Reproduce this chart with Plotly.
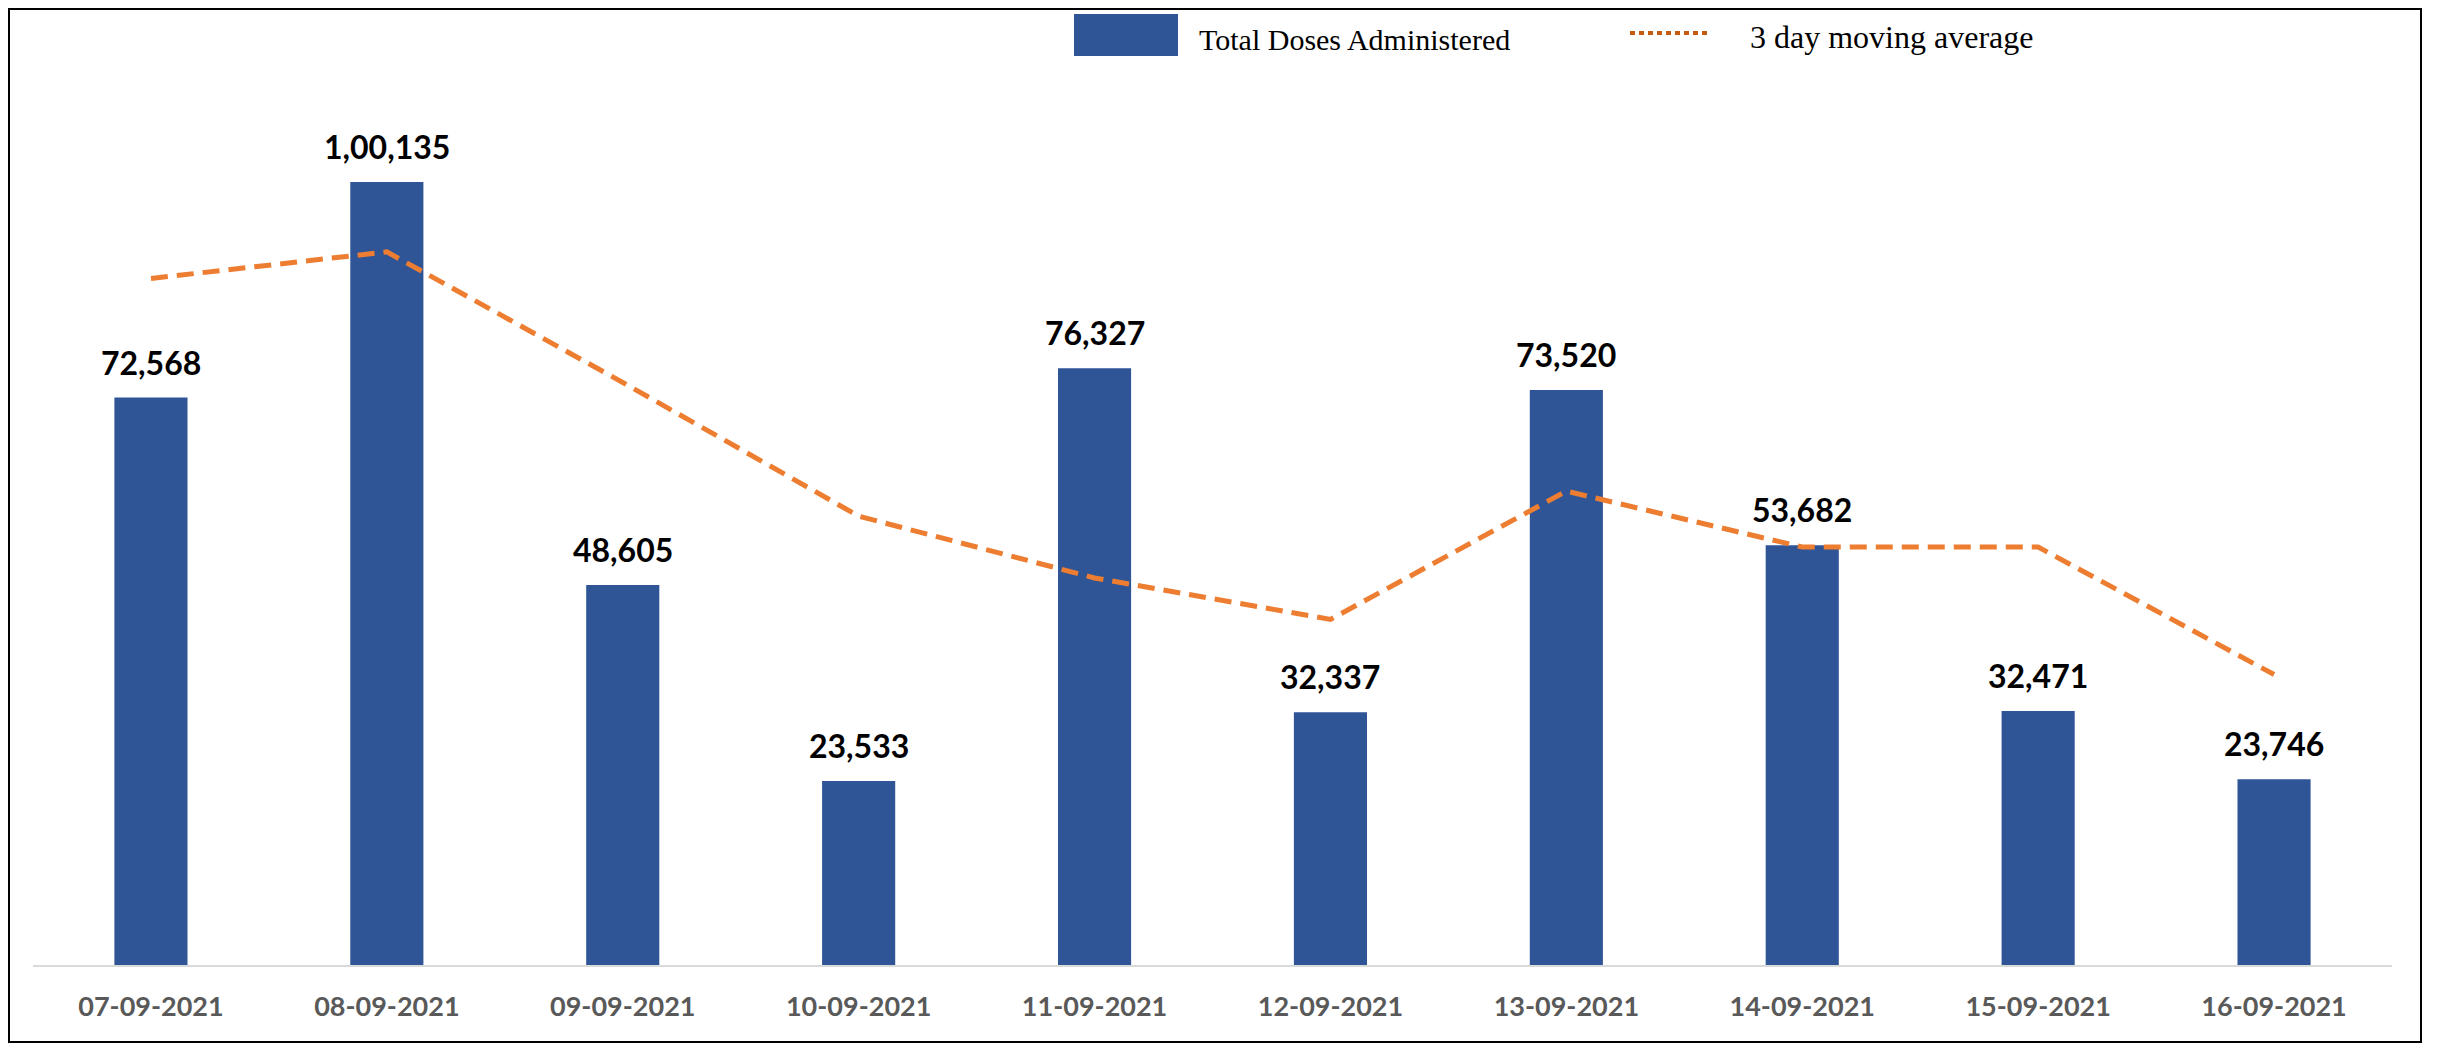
import plotly.graph_objects as go

dates = ["07-09-2021", "08-09-2021", "09-09-2021", "10-09-2021", "11-09-2021",
         "12-09-2021", "13-09-2021", "14-09-2021", "15-09-2021", "16-09-2021"]
doses = [72568, 100135, 48605, 23533, 76327, 32337, 73520, 53682, 32471, 23746]
moving_avg = [87800, 91200, 74500, 57400, 49500, 44200, 60600, 53450, 53450, 37150]

bar_name = "Total Doses Administered"
line_name = "3 day moving average"


def indian_fmt(n):
    s = str(int(n))
    if len(s) <= 3:
        return s
    head, tail = s[:-3], s[-3:]
    groups = []
    while len(head) > 2:
        groups.insert(0, head[-2:])
        head = head[:-2]
    if head:
        groups.insert(0, head)
    return ",".join(groups) + "," + tail


# page offset of the plot div (browser default body margin)
OFF = 8
W, H = 2437, 1045
# plot area in page pixels: x 33..2392, y 80..965
L = 33 - OFF
T = 80 - OFF
R = W - (2392 - OFF)
B = H - (965 - OFF)
plot_w = W - L - R
plot_h = H - T - B


def px_x(px):
    return (px - OFF - L) / plot_w


def px_y(py):
    return (H - B - (py - OFF)) / plot_h


fig = go.Figure()
fig.add_trace(go.Bar(
    x=dates, y=doses, name=bar_name,
    marker=dict(color="#2F5597", line=dict(width=0)),
    width=0.31, showlegend=False,
))
fig.add_trace(go.Scatter(
    x=dates, y=moving_avg, name=line_name, mode="lines",
    line=dict(color="#ED7D31", width=5, dash="17px,9px"),
    showlegend=False,
))

annotations = []
for d, v in zip(dates, doses):
    annotations.append(dict(
        x=d, y=v, xref="x", yref="y", text=indian_fmt(v), showarrow=False,
        yanchor="bottom", yshift=14,
        font=dict(family="Lato", size=32, color="#000000", weight="bold"),
    ))

# custom legend
serif = "Liberation Serif, Times New Roman, serif"
annotations.append(dict(x=px_x(1197), y=px_y(40), xref="paper", yref="paper",
                        text=bar_name, showarrow=False, xanchor="left", yanchor="middle",
                        font=dict(family=serif, size=30, color="#000000")))
annotations.append(dict(x=px_x(1748), y=px_y(37), xref="paper", yref="paper",
                        text=line_name, showarrow=False, xanchor="left", yanchor="middle",
                        font=dict(family=serif, size=32, color="#000000")))

shapes = [
    dict(type="rect", xref="paper", yref="paper",
         x0=px_x(1074), x1=px_x(1178), y0=px_y(56), y1=px_y(14),
         fillcolor="#2F5597", line=dict(width=0)),
    dict(type="line", xref="paper", yref="paper",
         x0=px_x(1630), x1=px_x(1709), y0=px_y(33), y1=px_y(33),
         line=dict(color="#C55A11", width=4, dash="5px,4px")),
    dict(type="rect", xref="paper", yref="paper",
         x0=px_x(OFF + 1), x1=px_x(2421), y0=px_y(1042), y1=px_y(OFF + 1),
         line=dict(color="#000000", width=2), fillcolor="rgba(0,0,0,0)", layer="below"),
]

y_top = plot_h / (783 / 100135)

fig.update_layout(
    width=W, height=H,
    margin=dict(l=L, r=R, t=T, b=B),
    paper_bgcolor="white", plot_bgcolor="white",
    showlegend=False,
    annotations=annotations,
    shapes=shapes,
    xaxis=dict(
        type="category", showgrid=False, zeroline=False,
        showline=True, linecolor="#D9D9D9", linewidth=2,
        ticks="outside", ticklen=17, tickcolor="rgba(0,0,0,0)",
        tickfont=dict(family="Lato", size=27, color="#595959", weight="bold"),
    ),
    yaxis=dict(range=[0, y_top], visible=False, showgrid=False, zeroline=False),
)

fig.write_html("out.html")
